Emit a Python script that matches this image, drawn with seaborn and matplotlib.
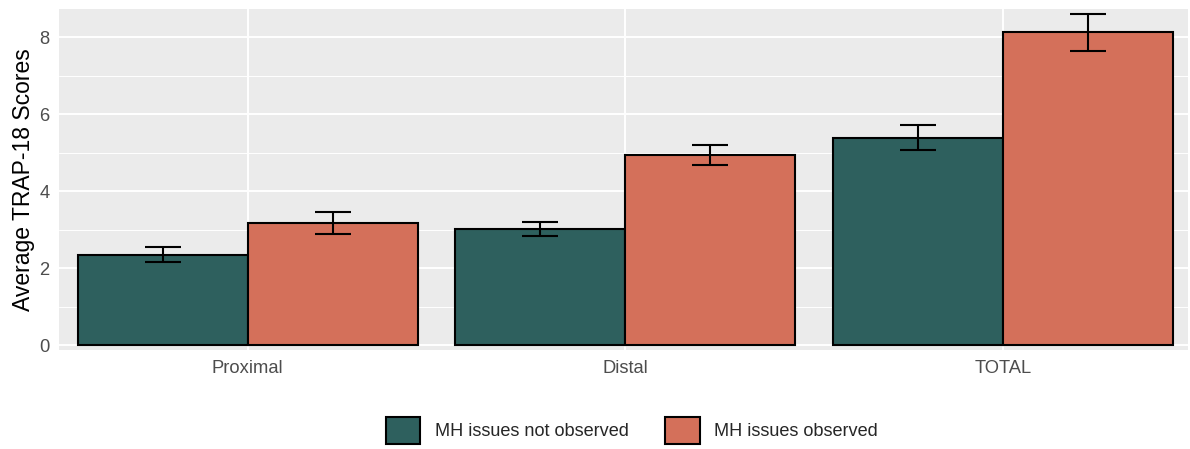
import pandas as pd
import matplotlib.pyplot as plt
import seaborn as sns
from matplotlib.patches import Patch
from matplotlib.ticker import MultipleLocator

# Values
categories = ["Proximal", "Distal", "TOTAL"]
groups = ["MH issues not observed", "MH issues observed"]
not_observed = [2.35, 3.02, 5.39]
observed = [3.18, 4.94, 8.13]
not_observed_err = [0.19, 0.18, 0.33]
observed_err = [0.28, 0.27, 0.48]

colors = ["#2E605E", "#D4705A"]

df = pd.DataFrame({
    "category": categories * 2,
    "group": [groups[0]] * 3 + [groups[1]] * 3,
    "score": not_observed + observed,
    "err": not_observed_err + observed_err,
})

sns.set_theme(style="darkgrid")
plt.rcParams['font.family'] = ['Liberation Sans', 'DejaVu Sans']

fig = plt.figure(figsize=(11.9, 4.49), dpi=100)
ax = fig.add_axes([0.0496, 0.2205, 0.9487, 0.7595])
ax.set_facecolor("#EBEBEB")

sns.barplot(data=df, x="category", y="score", hue="group", order=categories,
            hue_order=groups, palette=colors, width=0.9, gap=0, errorbar=None,
            edgecolor="black", linewidth=1.5, saturation=1, ax=ax, zorder=2)

# Error bars placed at the bar centres
for patches, errs, vals in zip(ax.containers, [not_observed_err, observed_err],
                               [not_observed, observed]):
    xs = [p.get_x() + p.get_width() / 2 for p in patches]
    ax.errorbar(xs, vals, yerr=errs, fmt="none", ecolor="black",
                elinewidth=1.5, capsize=13.3, capthick=1.5, zorder=3)

ax.set_xlim(-0.5, 2.49)
ax.set_ylim(-0.12, 8.73)
ax.yaxis.set_major_locator(MultipleLocator(2))
ax.yaxis.set_minor_locator(MultipleLocator(1))
ax.grid(which="major", color="white", linewidth=1.4, zorder=0)
ax.grid(which="minor", axis="y", color="white", linewidth=0.7, zorder=0)
ax.set_axisbelow(True)
for s in ax.spines.values():
    s.set_visible(False)

ax.tick_params(axis="both", which="major", length=4, width=1, color="#333333",
               labelcolor="#4D4D4D", labelsize=13.2, pad=3)
ax.tick_params(which="minor", length=0)
ax.set_xlabel("")
ax.set_ylabel("Average TRAP-18 Scores", fontsize=16.5, color="black", labelpad=3)

ax.get_legend().remove()
handles = [Patch(facecolor=c, edgecolor="black", linewidth=1.5) for c in colors]
fig.legend(handles, groups, loc="center", bbox_to_anchor=(0.531, 0.042),
           ncol=2, frameon=False, fontsize=13.1, handlelength=1.9,
           handleheight=1.9, handletextpad=0.8, columnspacing=2.0)

fig.savefig("out.png", dpi=100)
